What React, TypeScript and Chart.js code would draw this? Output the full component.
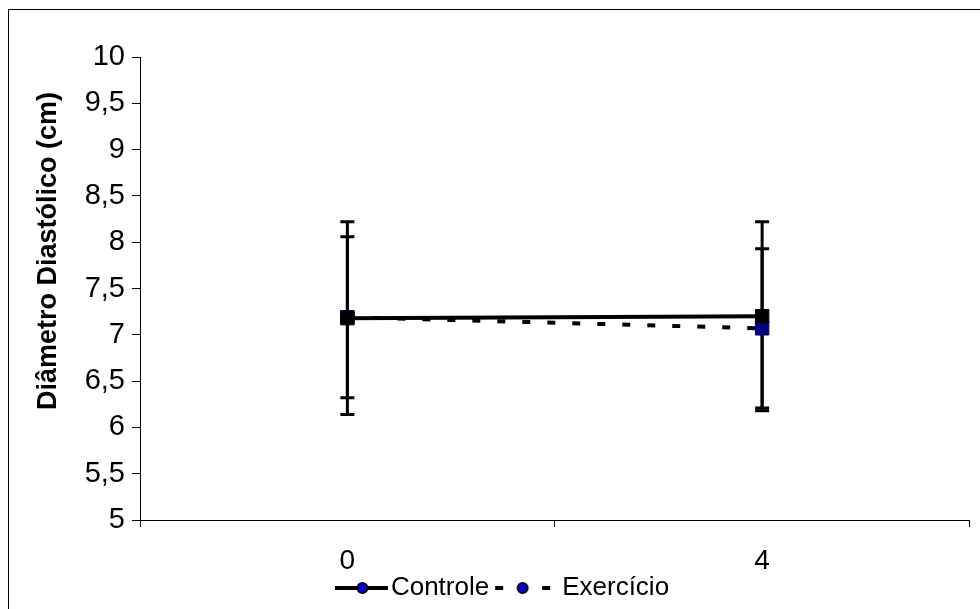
import React, { useEffect, useRef } from 'react';
import { Chart, registerables } from 'chart.js';

Chart.register(...registerables);

// ---- data ----
const categories = ['0', '4'];
const seriesNames = ['Controle', 'Exercício'];
const controleMean = [7.18, 7.2];
const controleErr = [1.04, 1.02];
const exercicioMean = [7.19, 7.07];
const exercicioErr = [0.87, 0.86];
const yMin = 5;
const yMax = 10;
const yStep = 0.5;
const yTitle = 'Diâmetro Diastólico (cm)';

const FONT = "'Liberation Sans', Arial, sans-serif";

function makeSample(dashed: boolean, from: number, to: number): HTMLCanvasElement {
  const c = document.createElement('canvas');
  c.width = 70;
  c.height = 16;
  const ctx = c.getContext('2d') as CanvasRenderingContext2D;
  const cy = 8;
  ctx.strokeStyle = '#000';
  ctx.lineWidth = 4;
  ctx.beginPath();
  if (dashed) {
    ctx.moveTo(from, cy);
    ctx.lineTo(from + 8, cy);
    ctx.moveTo(to - 8, cy);
    ctx.lineTo(to, cy);
  } else {
    ctx.moveTo(from, cy);
    ctx.lineTo(to, cy);
  }
  ctx.stroke();
  const cx = (from + to) / 2 + (dashed ? 0 : 1);
  ctx.beginPath();
  ctx.arc(cx, cy, 5, 0, Math.PI * 2);
  ctx.fillStyle = '#0000e6';
  ctx.fill();
  ctx.lineWidth = 2;
  ctx.strokeStyle = '#000';
  ctx.stroke();
  return c;
}

const errorBars = {
  id: 'errorBars',
  beforeDatasetsDraw(chart: any) {
    const ctx = chart.ctx;
    const yScale = chart.scales.y;
    const errs = [controleErr, exercicioErr];
    chart.data.datasets.forEach((ds: any, i: number) => {
      const meta = chart.getDatasetMeta(i);
      meta.data.forEach((pt: any, j: number) => {
        const v = ds.data[j];
        const e = errs[i][j];
        const yt = yScale.getPixelForValue(v + e);
        const yb = yScale.getPixelForValue(v - e);
        const x = pt.x;
        ctx.save();
        ctx.strokeStyle = '#000';
        ctx.lineWidth = 3;
        ctx.beginPath();
        ctx.moveTo(x, yt);
        ctx.lineTo(x, yb);
        ctx.moveTo(x - 7, yt);
        ctx.lineTo(x + 7, yt);
        ctx.moveTo(x - 7, yb);
        ctx.lineTo(x + 7, yb);
        ctx.stroke();
        ctx.restore();
      });
    });
  },
};

const yTitlePlugin = {
  id: 'yTitleText',
  afterDraw(chart: any) {
    const ctx = chart.ctx;
    ctx.save();
    ctx.translate(49, 251);
    ctx.rotate(-Math.PI / 2);
    ctx.font = `bold 27px ${FONT}`;
    ctx.fillStyle = '#000';
    ctx.textAlign = 'center';
    ctx.textBaseline = 'middle';
    ctx.fillText(yTitle, 0, 0);
    ctx.restore();
  },
};

export default function App() {
  const ref = useRef<HTMLCanvasElement | null>(null);

  useEffect(() => {
    if (!ref.current) return;
    const samples = [makeSample(false, 14, 67), makeSample(true, 3, 58)];
    const chart = new Chart(ref.current, {
      type: 'line',
      data: {
        labels: categories,
        datasets: [
          {
            label: seriesNames[0],
            data: controleMean,
            borderColor: '#000',
            borderWidth: 4,
            backgroundColor: '#000',
            pointStyle: 'rect',
            pointRadius: 9.5,
            pointBackgroundColor: '#000',
            pointBorderColor: '#000',
            pointBorderWidth: 1,
            tension: 0,
          },
          {
            label: seriesNames[1],
            data: exercicioMean,
            borderColor: '#000',
            borderWidth: 4,
            borderDash: [8, 17],
            backgroundColor: '#000080',
            pointStyle: 'rect',
            pointRadius: 9.5,
            pointBackgroundColor: '#000080',
            pointBorderColor: '#000080',
            pointBorderWidth: 1,
            tension: 0,
          },
        ],
      },
      options: {
        animation: false,
        responsive: false,
        maintainAspectRatio: false,
        layout: { padding: { left: 31, right: 8, top: 57, bottom: -2 } },
        plugins: {
          tooltip: { enabled: false },
          legend: {
            position: 'bottom',
            labels: {
              usePointStyle: true,
              pointStyleWidth: 44,
              padding: 16,
              color: '#000',
              font: { family: FONT, size: 26 },
              generateLabels: (c: any) =>
                c.data.datasets.map((ds: any, i: number) => ({
                  text: ds.label,
                  pointStyle: samples[i],
                  fillStyle: '#000',
                  strokeStyle: '#000',
                  lineWidth: 0,
                  hidden: false,
                  datasetIndex: i,
                  fontColor: '#000',
                })),
            },
          },
        },
        scales: {
          x: {
            type: 'category',
            offset: true,
            afterFit: (s: any) => {
              s.height = 39;
              s._computeLabelArea = () => undefined;
            },
            grid: {
              offset: true,
              drawOnChartArea: false,
              tickLength: 7,
              color: '#000',
            },
            border: { display: true, color: '#000', width: 1 },
            ticks: {
              color: '#000',
              padding: 17,
              font: { family: FONT, size: 28 },
            },
          },
          y: {
            min: yMin,
            max: yMax,
            afterFit: (s: any) => {
              s.width = 109;
            },
            grid: {
              drawOnChartArea: false,
              tickLength: 8,
              color: '#000',
            },
            border: { display: true, color: '#000', width: 1 },
            ticks: {
              stepSize: yStep,
              color: '#000',
              padding: 7,
              font: { family: FONT, size: 29 },
              callback: (v: any) => String(v).replace('.', ','),
            },
            title: { display: false },
          },
        },
      },
      plugins: [errorBars, yTitlePlugin],
    });
    return () => chart.destroy();
  }, []);

  return (
    <div
      style={{
        position: 'fixed',
        left: 0,
        top: 0,
        width: 980,
        height: 609,
        overflow: 'hidden',
        background: '#fff',
      }}
    >
      <div
        style={{
          position: 'absolute',
          left: 8,
          top: 9,
          width: 1000,
          height: 700,
          borderLeft: '1px solid #000',
          borderTop: '1px solid #000',
        }}
      />
      <canvas
        ref={ref}
        width={980}
        height={609}
        style={{ position: 'absolute', left: 0, top: 0, width: 980, height: 609 }}
      />
    </div>
  );
}
